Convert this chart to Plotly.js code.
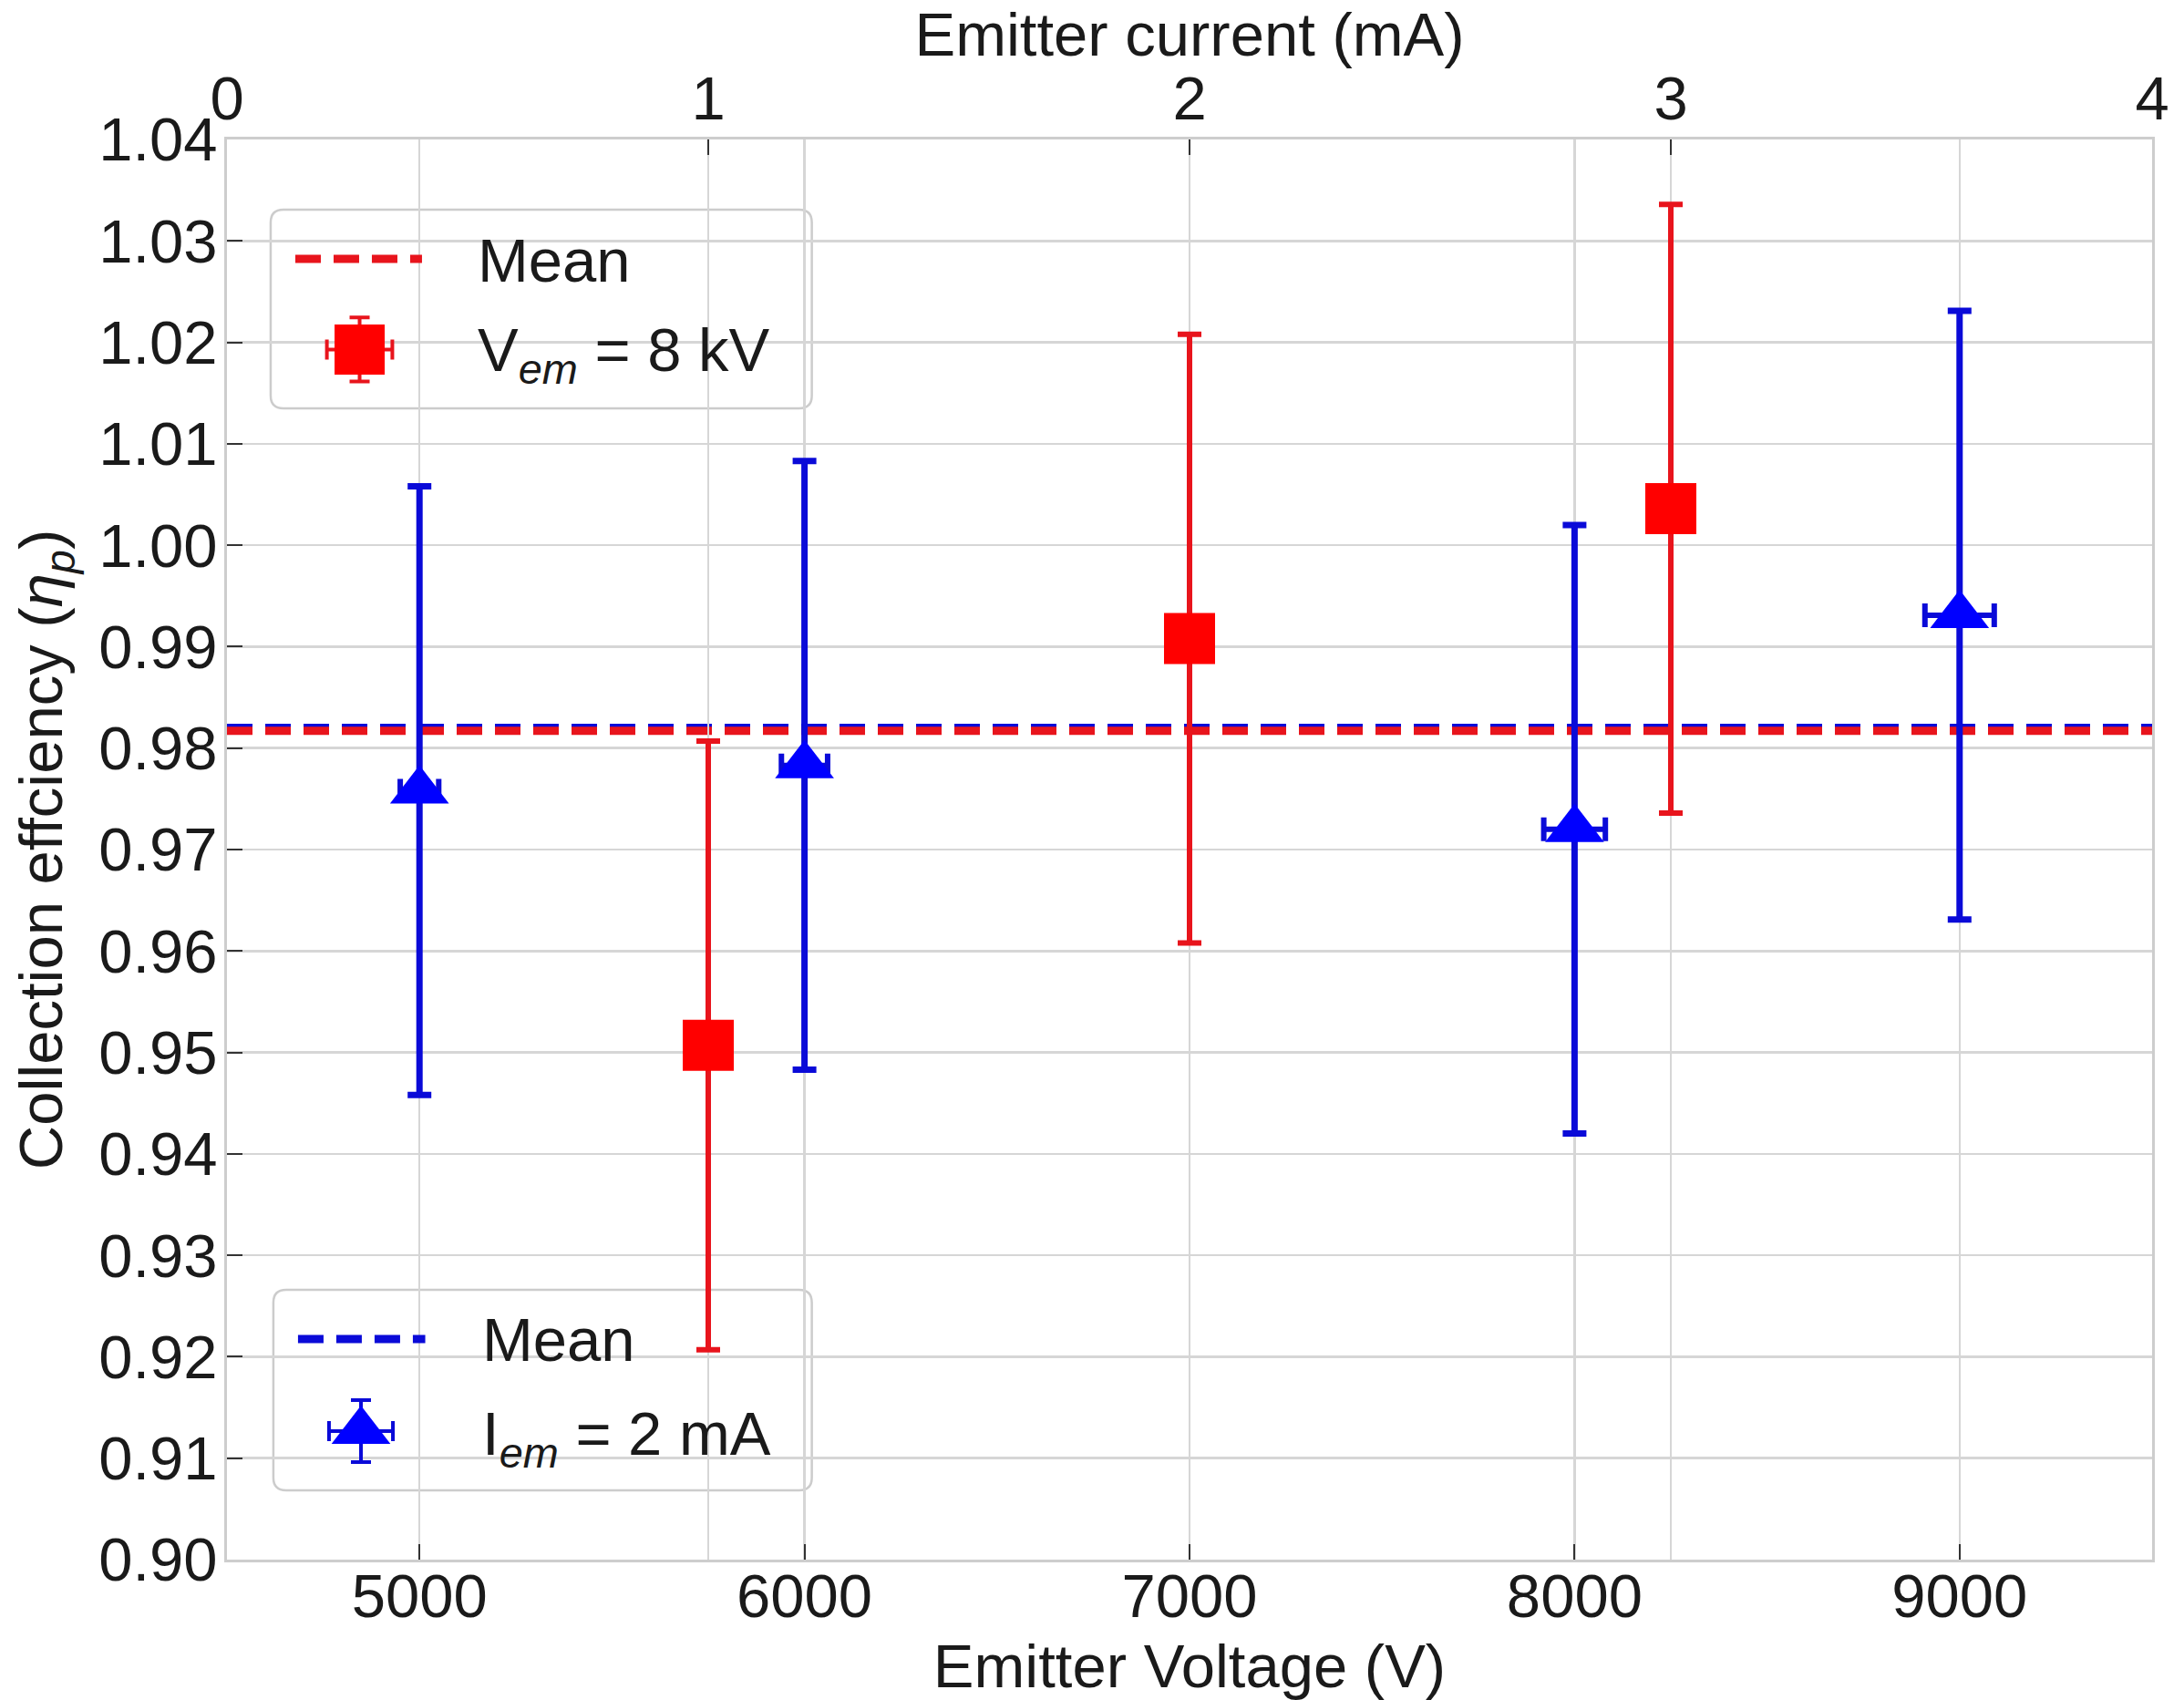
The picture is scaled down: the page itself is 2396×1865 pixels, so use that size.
<!DOCTYPE html>
<html>
<head>
<meta charset="utf-8">
<script src="https://cdn.plot.ly/plotly-3.0.1.min.js"></script>
<style>
html,body{margin:0;padding:0;background:#ffffff;}
#chart{width:2396px;height:1865px;}
</style>
</head>
<body>
<div id="chart"></div>
<script>
// ---------------- data ----------------
// Series "V_em = 8 kV" : plotted against the top axis (emitter current, mA)
const currentMA    = [1, 2, 3];
const currentErrMA = [0.01, 0.02, 0.03];
const effVem       = [0.9507, 0.9908, 1.0036];
const effVemErr    = [0.030, 0.030, 0.030];
const meanVem      = 0.9817;

// Series "I_em = 2 mA" : plotted against the bottom axis (emitter voltage, V)
const voltageV     = [5000, 6000, 8000, 9000];
const voltageErrV  = [50, 60, 80, 90];
const effIem       = [0.9758, 0.9783, 0.9720, 0.9931];
const effIemErr    = [0.030, 0.030, 0.030, 0.030];
const meanIem      = 0.9820;

// tick labels
const voltageTicks = [5000, 6000, 7000, 8000, 9000];
const currentTicks = [0, 1, 2, 3, 4];
const effTicks     = [0.90, 0.91, 0.92, 0.93, 0.94, 0.95, 0.96, 0.97, 0.98, 0.99, 1.00, 1.01, 1.02, 1.03, 1.04];

// legend labels
const legendMean = 'Mean';
const legendVem  = 'V<sub><i>em</i></sub> = 8 kV';
const legendIem  = 'I<sub><i>em</i></sub> = 2 mA';

// ---------------- styles ----------------
const TXT = '#1a1a1a';
const FONT = {family: '"Liberation Sans", Arial, Helvetica, sans-serif', size: 67, color: TXT};
const RED = '#ff0000', RED_BAR = '#e8141c';
const BLUE = '#0000ff', BLUE_BAR = '#0a0ad8';
const GRID = '#d6d6d6', FRAME = '#cdcdcd';

const axisBase = {
  showgrid: true, gridcolor: GRID, gridwidth: 2.5,
  showline: true, linecolor: FRAME, linewidth: 3,
  zeroline: false,
  ticks: 'inside', ticklen: 17, tickwidth: 2, tickcolor: '#333333',
  tickfont: FONT, automargin: false, fixedrange: true
};

// ---------------- traces ----------------
const traceIem = {
  type: 'scatter', mode: 'markers', name: 'I_em = 2 mA',
  x: voltageV, y: effIem, xaxis: 'x', yaxis: 'y',
  marker: {symbol: 'triangle-up', size: 56, color: BLUE},
  error_y: {type: 'data', array: effIemErr, visible: true, color: BLUE_BAR, thickness: 7, width: 13},
  error_x: {type: 'data', array: voltageErrV, visible: true, color: BLUE_BAR, thickness: 6, width: 13},
  hoverinfo: 'skip'
};
const traceVem = {
  type: 'scatter', mode: 'markers', name: 'V_em = 8 kV',
  x: currentMA, y: effVem, xaxis: 'x2', yaxis: 'y',
  marker: {symbol: 'square', size: 56, color: RED},
  error_y: {type: 'data', array: effVemErr, visible: true, color: RED_BAR, thickness: 6, width: 13},
  error_x: {type: 'data', array: currentErrMA, visible: true, color: RED_BAR, thickness: 6, width: 13},
  hoverinfo: 'skip'
};

// legend keys (drawn on a hidden overlay axis spanning the plot area 0..1)
const keyVem = {
  type: 'scatter', mode: 'markers', x: [0.0689], y: [0.8521], xaxis: 'x3', yaxis: 'y3',
  marker: {symbol: 'square', size: 55, color: RED},
  error_y: {type: 'constant', value: 0.0225, color: RED_BAR, thickness: 4, width: 11},
  error_x: {type: 'constant', value: 0.017, color: RED_BAR, thickness: 4, width: 11},
  hoverinfo: 'skip', showlegend: false
};
const keyIem = {
  type: 'scatter', mode: 'markers', x: [0.0696], y: [0.0905], xaxis: 'x3', yaxis: 'y3',
  marker: {symbol: 'triangle-up', size: 56, color: BLUE},
  error_y: {type: 'constant', value: 0.0218, color: BLUE_BAR, thickness: 4, width: 11},
  error_x: {type: 'constant', value: 0.0166, color: BLUE_BAR, thickness: 4, width: 11},
  hoverinfo: 'skip', showlegend: false
};

// rounded legend frame in paper coordinates
function roundedBox(x0, y0, x1, y1) {
  const rx = 14 / 2112, ry = 14 / 1558;
  return `M${x0 + rx},${y0} H${x1 - rx} Q${x1},${y0} ${x1},${y0 + ry} V${y1 - ry} Q${x1},${y1} ${x1 - rx},${y1} ` +
         `H${x0 + rx} Q${x0},${y1} ${x0},${y1 - ry} V${y0 + ry} Q${x0},${y0} ${x0 + rx},${y0} Z`;
}

const DASH = '28px,14px';
const shapes = [
  // mean lines
  {type: 'line', xref: 'paper', yref: 'y', x0: 0, x1: 1, y0: meanIem, y1: meanIem,
   line: {color: BLUE_BAR, width: 9, dash: DASH}, layer: 'between'},
  {type: 'line', xref: 'paper', yref: 'y', x0: 0, x1: 1, y0: meanVem, y1: meanVem,
   line: {color: RED_BAR, width: 9, dash: DASH}, layer: 'between'},
  // legend frames
  {type: 'path', xref: 'paper', yref: 'paper', path: roundedBox(0.0227, 0.8107, 0.3038, 0.9506),
   fillcolor: 'rgba(255,255,255,0.82)', line: {color: '#cccccc', width: 2.5}, layer: 'between'},
  {type: 'path', xref: 'paper', yref: 'paper', path: roundedBox(0.0241, 0.0488, 0.3038, 0.1900),
   fillcolor: 'rgba(255,255,255,0.82)', line: {color: '#cccccc', width: 2.5}, layer: 'between'},
  // legend line keys
  {type: 'line', xref: 'paper', yref: 'paper', x0: 0.0355, x1: 0.1013, y0: 0.9159, y1: 0.9159,
   line: {color: RED_BAR, width: 9, dash: DASH}, layer: 'above'},
  {type: 'line', xref: 'paper', yref: 'paper', x0: 0.0369, x1: 0.1030, y0: 0.1553, y1: 0.1553,
   line: {color: BLUE_BAR, width: 9, dash: DASH}, layer: 'above'}
];

const annotations = [
  {xref: 'paper', yref: 'paper', x: 0.1293, y: 0.9152, xanchor: 'left', yanchor: 'middle',
   text: legendMean, showarrow: false, font: FONT},
  {xref: 'paper', yref: 'paper', x: 0.1293, y: 0.8540, xanchor: 'left', yanchor: 'middle', yshift: -8,
   text: legendVem, showarrow: false, font: FONT},
  {xref: 'paper', yref: 'paper', x: 0.1316, y: 0.1553, xanchor: 'left', yanchor: 'middle',
   text: legendMean, showarrow: false, font: FONT},
  {xref: 'paper', yref: 'paper', x: 0.1316, y: 0.0911, xanchor: 'left', yanchor: 'middle', yshift: -8,
   text: legendIem, showarrow: false, font: FONT}
];

const layout = {
  width: 2396, height: 1865,
  margin: {l: 249, r: 35, t: 153, b: 154, pad: 0},
  paper_bgcolor: '#ffffff', plot_bgcolor: '#ffffff',
  font: FONT,
  showlegend: false,
  xaxis: Object.assign({}, axisBase, {
    range: [4500, 9500], tickvals: voltageTicks, ticktext: voltageTicks.map(String),
    side: 'bottom', anchor: 'y', ticklabelstandoff: -20,
    title: {text: 'Emitter Voltage (V)', font: FONT, standoff: 20}
  }),
  xaxis2: Object.assign({}, axisBase, {
    range: [0, 4], tickvals: currentTicks, ticktext: currentTicks.map(String),
    side: 'top', overlaying: 'x', anchor: 'y', ticklabelstandoff: -8,
    title: {text: 'Emitter current (mA)', font: FONT, standoff: 3}
  }),
  yaxis: Object.assign({}, axisBase, {
    range: [0.90, 1.04], tickvals: effTicks, tickformat: '.2f', mirror: true, ticklabelstandoff: -6,
    title: {text: 'Collection effciency (<i>η<sub>p</sub></i>)', font: FONT, standoff: 18}
  }),
  xaxis3: {overlaying: 'x', anchor: 'y3', range: [0, 1], visible: false, fixedrange: true},
  yaxis3: {overlaying: 'y', anchor: 'x3', range: [0, 1], visible: false, fixedrange: true},
  shapes: shapes,
  annotations: annotations
};

Plotly.newPlot('chart', [traceIem, traceVem, keyVem, keyIem], layout, {staticPlot: true, displayModeBar: false});
</script>
</body>
</html>
